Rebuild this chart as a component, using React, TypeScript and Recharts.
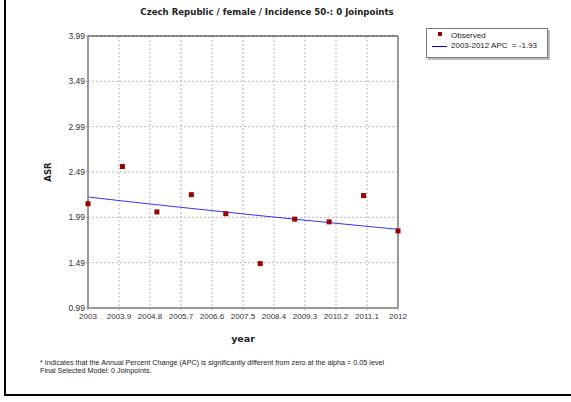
import React from "react";
import {
  ComposedChart,
  Line,
  Scatter,
  XAxis,
  YAxis,
  CartesianGrid,
  ReferenceLine,
} from "recharts";

const YEARS = [2003, 2004, 2005, 2006, 2007, 2008, 2009, 2010, 2011, 2012];
const OBSERVED = [2.14, 2.55, 2.05, 2.24, 2.03, 1.48, 1.97, 1.94, 2.23, 1.84];
// joinpoint fit, APC = -1.93
const FITTED = [2.214, 2.171, 2.129, 2.088, 2.048, 2.008, 1.97, 1.932, 1.894, 1.858];

const X_TICKS = [2003, 2003.9, 2004.8, 2005.7, 2006.6, 2007.5, 2008.4, 2009.3, 2010.2, 2011.1, 2012];
const Y_TICKS = [0.99, 1.49, 1.99, 2.49, 2.99, 3.49, 3.99];

const TITLE = "Czech Republic / female / Incidence 50-: 0 Joinpoints";
const FIT_LABEL = "2003-2012 APC  = -1.93";
const NOTES = [
  "* Indicates that the Annual Percent Change (APC) is significantly different from zero at the alpha = 0.05 level",
  "Final Selected Model: 0 Joinpoints.",
];

const C = {
  obs: "#990000",
  fit: "#3333ff",
  grid: "#b8b8b8",
  axis: "#999999",
  text: "#333333",
};

const data = YEARS.map((year, i) => ({ year, asr: OBSERVED[i], fit: FITTED[i] }));

const SquareDot = (props: any) => {
  const { cx, cy } = props;
  if (cx == null || cy == null) return null;
  return <rect x={cx - 2.5} y={cy - 2.5} width={5} height={5} fill={C.obs} />;
};

function LegendBox() {
  return (
    <div
      style={{
        position: "absolute",
        left: 426,
        top: 28,
        width: 120,
        height: 28,
        border: "1px solid #777",
        boxShadow: "2px 2px 0 #bbb",
        background: "#fff",
        fontFamily: "'Liberation Sans', Arial, sans-serif",
        fontSize: 8,
        color: "#222",
      }}
    >
      <div style={{ position: "absolute", left: 11, top: 3, width: 4, height: 4, background: C.obs }} />
      <div style={{ position: "absolute", left: 24, top: 2, lineHeight: "9px" }}>Observed</div>
      <div style={{ position: "absolute", left: 5, top: 17, width: 15, height: 1, background: "#0000ee" }} />
      <div style={{ position: "absolute", left: 24, top: 12, lineHeight: "9px", whiteSpace: "pre" }}>{FIT_LABEL}</div>
    </div>
  );
}

export default function App() {
  return (
    <div style={{ position: "absolute", left: 0, top: 0, width: 571, height: 402, background: "#fff" }}>
      <div style={{ position: "absolute", left: 4, top: 0, width: 2, height: 396, background: "#000" }} />
      <div style={{ position: "absolute", left: 4, top: 394, width: 567, height: 2, background: "#000" }} />
      <ComposedChart
        width={571}
        height={402}
        data={data}
        margin={{ top: 36, right: 173, bottom: 76, left: 48 }}
        style={{ position: "absolute", left: 0, top: 0 }}
      >
        <text
          x={267}
          y={15}
          textAnchor="middle"
          style={{ fontFamily: "'DejaVu Sans', Verdana, sans-serif", fontWeight: "bold", fontSize: 8.6, fill: "#222" }}
        >
          {TITLE}
        </text>
        <CartesianGrid stroke={C.grid} strokeDasharray="2 2" />
        <XAxis
          type="number"
          dataKey="year"
          domain={[2003, 2012]}
          ticks={X_TICKS}
          interval={0}
          height={18}
          tickSize={2}
          tickMargin={3}
          axisLine={{ stroke: C.axis, strokeWidth: 2 }}
          tickLine={{ stroke: C.axis }}
          tick={{ fontSize: 8, fill: C.text, fontFamily: "'Liberation Sans', Arial, sans-serif" }}
          tickFormatter={(v: number) => String(Math.round(v * 10) / 10)}
          label={{
            value: "year",
            position: "insideBottom",
            offset: -16,
            style: { fontFamily: "'DejaVu Sans', Verdana, sans-serif", fontWeight: "bold", fontSize: 9.5, fill: "#222" },
          }}
        />
        <YAxis
          type="number"
          domain={[0.99, 3.99]}
          ticks={Y_TICKS}
          interval={0}
          width={40}
          tickSize={2}
          tickMargin={1}
          axisLine={{ stroke: C.axis, strokeWidth: 2 }}
          tickLine={{ stroke: C.axis }}
          tick={{ fontSize: 8.5, fill: C.text, fontFamily: "'Liberation Sans', Arial, sans-serif" }}
          tickFormatter={(v: number) => v.toFixed(2)}
          label={{
            value: "ASR",
            angle: -90,
            position: "insideLeft",
            offset: 0,
            style: { fontFamily: "'DejaVu Sans', Verdana, sans-serif", fontWeight: "bold", fontSize: 8.5, fill: "#222", textAnchor: "middle" },
          }}
        />
        <ReferenceLine y={3.99} stroke="#222" strokeWidth={1} />
        <ReferenceLine x={2012} stroke={C.axis} strokeWidth={2} />
        <Line
          dataKey="fit"
          type="linear"
          stroke={C.fit}
          strokeWidth={1}
          dot={false}
          activeDot={false}
          isAnimationActive={false}
        />
        <Scatter dataKey="asr" shape={SquareDot} isAnimationActive={false} />
        {NOTES.map((n, i) => (
          <text
            key={i}
            x={40}
            y={365 + i * 8}
            style={{ fontFamily: "'Liberation Sans', Arial, sans-serif", fontSize: 7.2, fill: "#222" }}
          >
            {n}
          </text>
        ))}
      </ComposedChart>
      <LegendBox />
    </div>
  );
}
